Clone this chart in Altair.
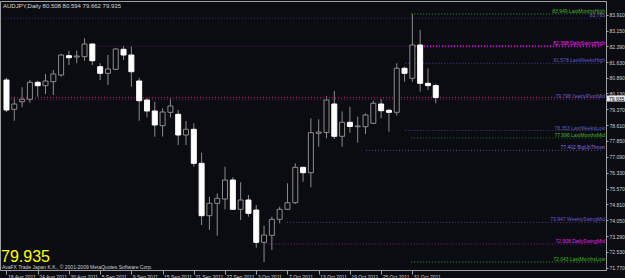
import altair as alt
import pandas as pd

# ---------------- data ----------------
bar_index = list(range(56))
opens = [80.776, 79.370, 79.735, 79.850, 80.666, 80.503, 80.695, 81.016, 81.942, 81.880,
         81.894, 82.504, 81.414, 81.098, 81.290, 82.249, 81.976, 80.728, 79.816, 79.289,
         78.583, 79.226, 79.130, 78.137, 78.411, 76.779, 74.265, 74.860, 75.066, 75.978,
         74.572, 75.018, 74.538, 72.988, 73.324, 74.092, 74.572, 74.888, 76.587, 76.328,
         78.219, 78.257, 79.625, 78.075, 78.746, 78.535, 78.535, 78.698, 79.625, 79.322,
         79.226, 81.338, 80.858, 82.456, 80.618, 80.508]
highs = [80.872, 79.975, 80.426, 80.776, 80.743, 81.064, 81.256, 82.024, 82.168, 82.182,
         82.777, 82.520, 81.578, 81.976, 82.297, 82.408, 82.374, 80.887, 79.898, 79.735,
         79.418, 79.898, 79.337, 78.809, 78.698, 77.288, 75.176, 75.339, 76.616, 76.107,
         75.867, 75.258, 74.778, 73.785, 74.217, 74.696, 75.819, 76.779, 76.600, 78.938,
         78.890, 80.008, 80.248, 79.265, 79.495, 79.015, 79.178, 79.783, 79.864, 79.394,
         81.578, 81.414, 83.949, 83.175, 81.338, 80.594]
lows = [79.241, 78.823, 79.466, 79.687, 79.975, 80.104, 80.056, 80.935, 81.496, 81.578,
        81.702, 81.496, 80.776, 80.536, 81.256, 81.736, 80.455, 78.823, 78.986, 78.055,
        78.065, 78.977, 77.657, 77.657, 76.616, 73.818, 73.578, 73.305, 74.572, 74.538,
        74.058, 74.217, 72.729, 72.043, 72.619, 73.900, 74.538, 74.826, 75.896, 75.627,
        77.576, 77.979, 77.945, 77.576, 78.247, 77.768, 78.185, 78.665, 78.938, 78.295,
        79.073, 80.695, 80.695, 80.215, 80.296, 79.662]
closes = [79.337, 79.625, 79.850, 80.666, 80.503, 80.728, 81.064, 81.976, 81.846, 81.928,
          82.504, 81.702, 81.098, 81.304, 82.264, 81.976, 81.174, 79.783, 79.289, 78.617,
          79.241, 79.529, 78.137, 78.411, 76.779, 74.265, 74.860, 75.100, 75.978, 74.572,
          75.018, 74.380, 72.988, 73.339, 74.092, 74.572, 74.888, 76.587, 76.328, 78.247,
          78.281, 79.816, 78.075, 78.746, 78.545, 78.569, 79.097, 79.658, 79.303, 79.226,
          81.338, 81.098, 82.456, 80.618, 80.508, 79.935]

date_tick_index = [0, 4, 8, 12, 16, 20, 24, 28, 32, 36, 40, 44, 48, 52]
date_tick_labels = ["18 Aug 2011", "24 Aug 2011", "30 Aug 2011", "5 Sep 2011", "9 Sep 2011",
                    "15 Sep 2011", "21 Sep 2011", "27 Sep 2011", "3 Oct 2011", "7 Oct 2011",
                    "13 Oct 2011", "19 Oct 2011", "25 Oct 2011", "31 Oct 2011"]
price_ticks = [83.910, 83.150, 82.390, 81.630, 80.890, 80.130, 79.370, 78.610, 77.850,
               77.090, 76.330, 75.570, 74.810, 74.050, 73.290, 72.530, 71.770]

level_prices = [83.949, 83.740, 82.398, 82.398, 81.578, 79.935, 79.860, 78.353, 77.996,
                77.402, 73.947, 72.908, 72.043]
level_start_bar = [51.85, -0.2, 11.15, 52.35, 51.1, -0.2, -0.2, 51.1, 51.85,
                   46.06, 35.97, 32.95, 51.85]
level_labels = ["83.949 LastMonthsHigh", "83.795", "", "82.398 DailySwingHigh",
                "81.578 LastWeeksHigh", "", "79.798 YearlyPivotMid", "78.353 LastWeeksLow",
                "77.996 LastMonthsMid", "77.402 BigUpThrust", "73.947 WeeklySwingMid",
                "72.908 DailySwingMid", "72.043 LastMonthsLow"]
level_line_colors = ["#2f9a1c", "#2a2a80", "#5a1470", "#e000e0", "#40409c", "#c0103c",
                     "#6a2a9a", "#40409c", "#1c6a40", "#5a46a8", "#46409c", "#94109a",
                     "#2f9a1c"]
level_text_colors = ["#46b42a", "#6a6ac8", "#5a1470", "#ff20ff", "#5c5cc0", "#c0103c",
                     "#6a5ad0", "#5c5cc0", "#46b42a", "#8a6ae0", "#6a5ad0", "#e020e0",
                     "#46b42a"]
level_widths = [1, 1, 1, 2, 1, 1, 1, 1, 1, 1, 1, 1, 1]

symbol_title = "AUDJPY,Daily  80.508 80.594 79.662 79.935"
last_price = 79.935
copyright_text = "AvaFX Trade Japan K.K., © 2001-2009 MetaQuotes Software Corp."

# ---------------- layout ----------------
BG = "#0b0c12"
W, H = 606, 269
X_DOMAIN = [-0.19, 76.17]
Y_DOMAIN = [71.66, 84.567]

df = pd.DataFrame({"i": bar_index, "open": opens, "high": highs, "low": lows, "close": closes})
lv = pd.DataFrame({"price": level_prices, "start": level_start_bar, "label": level_labels,
                   "lc": level_line_colors, "tc": level_text_colors, "sw": level_widths})
lv["end"] = X_DOMAIN[1]

label_expr = "[" + ",".join("'%s'" % s for s in date_tick_labels) + "][round(datum.value/4)]"

xs = alt.Scale(domain=X_DOMAIN, nice=False, zero=False)
ys = alt.Scale(domain=Y_DOMAIN, nice=False, zero=False)

x_axis = alt.Axis(values=date_tick_index, labelExpr=label_expr, orient="bottom",
                  labelAlign="left", labelBaseline="top", labelPadding=0, labelFontSize=5,
                  labelFont="Liberation Sans", labelColor="#d0d0d0", tickColor="#a0a0a0",
                  tickSize=4, domainColor="#a0a0a0", grid=False, title=None,
                  labelOverlap=False, labelFlush=False, labelBound=False, labelOffset=1)
y_axis = alt.Axis(values=price_ticks, format=".3f", orient="right", labelFontSize=5,
                  labelFont="Liberation Sans", labelColor="#d0d0d0", tickColor="#a0a0a0",
                  tickSize=2, labelPadding=1, domainColor="#a0a0a0", grid=False, title=None,
                  labelOverlap=False, labelFlush=False, labelBound=False)


def X(field):
    return alt.X(field, type="quantitative", scale=xs, axis=x_axis)


def Y(field):
    return alt.Y(field, type="quantitative", scale=ys, axis=y_axis)


base = alt.Chart(df)

wicks = base.mark_rule(color="#8c8c8c", strokeWidth=1).encode(
    x=X("i"), y=Y("low"), y2="high:Q")
up = base.transform_filter("datum.close >= datum.open").mark_bar(
    size=5, fill=BG, stroke="#8c8c8c", strokeWidth=1).encode(
    x=X("i"), y=Y("open"), y2="close:Q")
down = base.transform_filter("datum.close < datum.open").mark_bar(
    size=5, fill="#ffffff", stroke="#ffffff", strokeWidth=1).encode(
    x=X("i"), y=Y("open"), y2="close:Q")

lines = alt.Chart(lv).mark_rule(strokeDash=[1, 2]).encode(
    x=X("start"), x2="end:Q", y=Y("price"),
    color=alt.Color("lc:N", scale=None),
    strokeWidth=alt.StrokeWidth("sw:Q", scale=None),
)
labels = alt.Chart(lv).mark_text(align="right", baseline="alphabetic", dy=-1,
                                 fontSize=5, font="Liberation Sans").encode(
    x=alt.value(605), y=Y("price"), text="label:N",
    color=alt.Color("tc:N", scale=None),
)

cur = pd.DataFrame({"price": [last_price], "txt": ["%.3f" % last_price]})
cur_box = alt.Chart(cur).mark_tick(orient="horizontal", size=18, thickness=6,
                                   color="#e8e8e8", opacity=1, yOffset=1).encode(
    x=alt.value(616), y=Y("price"))
cur_txt = alt.Chart(cur).mark_text(align="left", baseline="middle", fontSize=5,
                                   font="Liberation Sans", color="#000000", dy=1).encode(
    x=alt.value(609), y=Y("price"), text="txt:N")

ann = pd.DataFrame({"t": [symbol_title]})
title_txt = alt.Chart(ann).mark_text(align="left", baseline="middle", fontSize=6,
                                     font="Liberation Sans", color="#d8d8d8").encode(
    x=alt.value(3), y=alt.value(5), text="t:N")
big = pd.DataFrame({"t": ["%.3f" % last_price]})
big_txt = alt.Chart(big).mark_text(align="left", baseline="alphabetic", fontSize=16,
                                   font="Liberation Sans", color="#ffff00").encode(
    x=alt.value(1), y=alt.value(261), text="t:N")
cp = pd.DataFrame({"t": [copyright_text]})
cp_txt = alt.Chart(cp).mark_text(align="left", baseline="middle", fontSize=5,
                                  font="Liberation Sans", color="#d0d0d0").encode(
    x=alt.value(2), y=alt.value(265.5), text="t:N")

chart = alt.layer(wicks, lines, up, down, labels, cur_box, cur_txt, title_txt, big_txt, cp_txt).properties(
    width=W, height=H, background=BG,
    padding={"left": 0, "top": 1, "right": 19, "bottom": 8},
    autosize=alt.AutoSizeParams(type="none"),
).configure_view(stroke="#a0a0a0", fill=BG).configure_axis(labelOverlap=False)

chart.save("out.html", embed_options={"renderer": "svg", "actions": False})
